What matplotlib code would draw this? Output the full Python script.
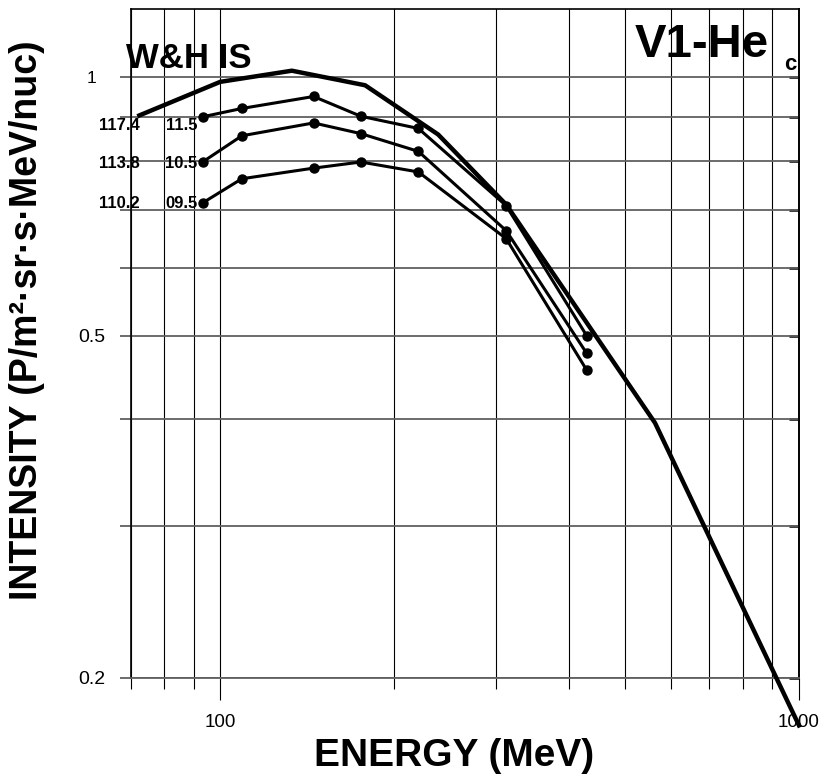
import matplotlib
matplotlib.use('Agg')
import matplotlib.pyplot as plt
from matplotlib.ticker import FixedLocator, NullFormatter

plt.rcParams['font.family'] = ['Liberation Sans', 'DejaVu Sans']

# W&H interstellar spectrum (thick line)
is_energy = [72.5, 100, 133, 178, 238, 312, 564, 1000]
is_intensity = [0.903, 0.988, 1.018, 0.979, 0.858, 0.711, 0.396, 0.176]

# V1 helium spectra for three modulation levels
energy = [93.5, 109, 145, 175, 220, 312, 430]
int_115 = [0.900, 0.920, 0.950, 0.901, 0.872, 0.709, 0.500]
int_105 = [0.798, 0.855, 0.885, 0.860, 0.820, 0.663, 0.477]
int_095 = [0.715, 0.762, 0.784, 0.797, 0.776, 0.649, 0.456]
series = [int_115, int_105, int_095]
left_labels = ['117.4', '113.8', '110.2']
right_labels = ['11.5', '10.5', '09.5']
label_dy = [-9, -2, -1]   # pixel offsets of the labels

y_major = [0.2, 0.5, 1.0]
y_major_labels = ['0.2', '0.5', '1']
y_minor = [0.3, 0.4, 0.6, 0.7, 0.8, 0.9]
x_major = [100, 1000]
x_minor = [70, 80, 90, 200, 300, 400, 500, 600, 700, 800, 900]

fig = plt.figure(figsize=(8.23, 7.79), dpi=100)
ax = fig.add_axes([0.1586, 0.130, 0.8122, 0.858])
ax.set_xscale('log')
ax.set_yscale('log')
ax.set_xlim(70, 1000)
ax.set_ylim(0.2, 1.2)

# grid
ax.xaxis.set_major_locator(FixedLocator(x_major))
ax.xaxis.set_minor_locator(FixedLocator(x_minor))
ax.xaxis.set_minor_formatter(NullFormatter())
ax.set_xticks(x_major, ['100', '1000'])
ax.yaxis.set_major_locator(FixedLocator(y_major))
ax.yaxis.set_minor_locator(FixedLocator(y_minor))
ax.yaxis.set_minor_formatter(NullFormatter())
ax.set_yticks(y_major, y_major_labels)

ax.grid(True, which='both', axis='x', color='black', lw=0.8)
ax.grid(True, which='both', axis='y', color='#606060', lw=1.3)
ax.set_axisbelow(True)

ax.tick_params(axis='x', which='major', length=16, width=0.8, pad=10, labelsize=13.5)
ax.tick_params(axis='x', which='minor', length=8, width=0.8)
ax.tick_params(axis='y', which='major', length=8, width=1.3, color='#606060', pad=20, labelsize=14)
ax.tick_params(axis='y', which='minor', length=8, width=1.3, color='#606060')
for lab in ax.get_yticklabels():
    lab.set_horizontalalignment('center')
    if lab.get_text() == '1':
        lab.set_fontsize(12.5)

for s in ['top', 'right', 'left']:
    ax.spines[s].set_linewidth(1.2)
ax.spines['bottom'].set_color('#606060')
ax.spines['bottom'].set_linewidth(1.3)

sec = ax.secondary_yaxis('right')
sec.yaxis.set_major_locator(FixedLocator(y_major))
sec.yaxis.set_minor_locator(FixedLocator(y_minor))
sec.tick_params(which='both', direction='in', length=7, width=1.8, labelright=False)
sec.spines['right'].set_linewidth(1.2)

# data
ax.plot(is_energy, is_intensity, color='black', lw=3.2, clip_on=False, zorder=5)
for vals, l1, l2, dy in zip(series, left_labels, right_labels, label_dy):
    ax.plot(energy, vals, color='black', lw=2.2, marker='o', ms=6.5, zorder=4)
    ax.annotate(l2, (energy[0], vals[0]), xytext=(-6, dy), textcoords='offset pixels',
                ha='right', va='center', fontsize=12, fontweight='bold')
    ax.annotate(l1, (energy[0], vals[0]), xytext=(-64, dy), textcoords='offset pixels',
                ha='right', va='center', fontsize=12, fontweight='bold')

ax.text(-0.007, 0.912, 'W&H IS', transform=ax.transAxes, fontsize=25,
        fontweight='bold', va='baseline', ha='left')
ax.text(0.955, 0.929, 'V1-He', transform=ax.transAxes, fontsize=34,
        fontweight='bold', va='baseline', ha='right')
ax.text(0.9966, 0.909, 'c', transform=ax.transAxes, fontsize=16,
        fontweight='bold', va='baseline', ha='right')

ax.set_xlabel('ENERGY (MeV)', fontsize=28, fontweight='bold', va='center')
ax.xaxis.set_label_coords(0.484, -0.117)
ax.set_ylabel('INTENSITY (P/m\u00b2\u00b7sr\u00b7s\u00b7MeV/nuc)', fontsize=27,
              fontweight='bold', va='center')
ax.yaxis.set_label_coords(-0.155, 0.535)

fig.savefig('out.png', dpi=100)
